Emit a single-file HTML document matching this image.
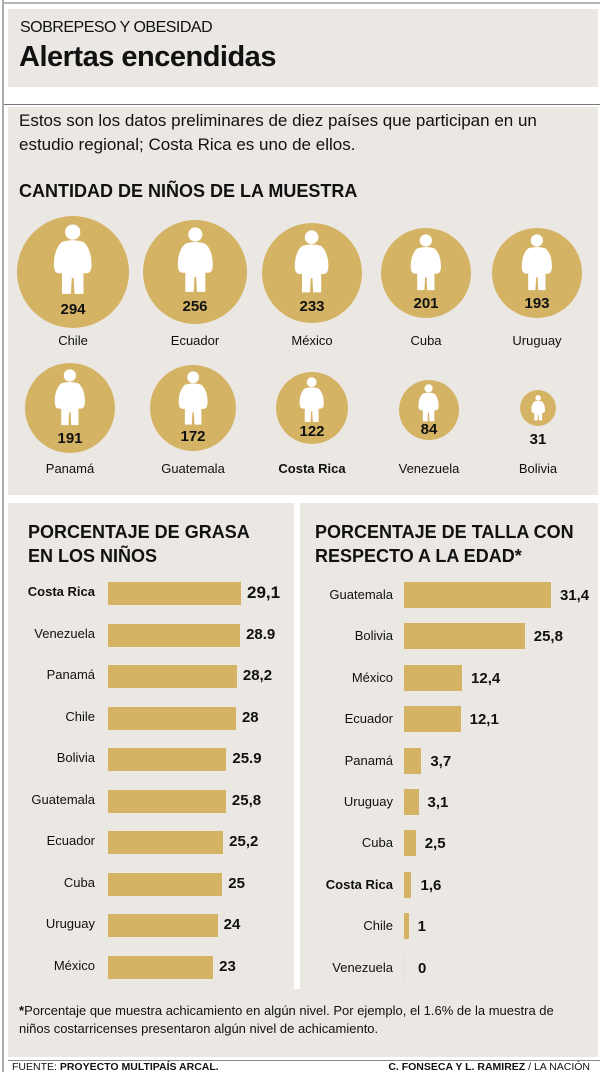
<!DOCTYPE html>
<html><head><meta charset="utf-8"><style>
*{margin:0;padding:0;box-sizing:border-box}
body{width:600px;height:1072px;background:#fff;position:relative;overflow:hidden;font-family:"Liberation Sans",sans-serif;color:#111}
.a{position:absolute}
.box{position:absolute;background:#ebe8e4}
.t{position:absolute;white-space:nowrap}
.b{font-weight:bold}
</style></head><body>
<div class="a" style="left:2px;top:0;width:2px;height:1072px;background:#a9a9a9"></div>
<div class="a" style="left:2px;top:2px;width:598px;height:2px;background:#b5b5b5"></div>
<div class="box" style="left:8px;top:9px;width:590px;height:78px"></div>
<div class="a" style="left:4px;top:104px;width:596px;height:1px;background:#777"></div>
<div class="box" style="left:8px;top:107px;width:590px;height:388px"></div>
<div class="box" style="left:8px;top:503px;width:286px;height:486px"></div>
<div class="box" style="left:300px;top:503px;width:298px;height:486px"></div>
<div class="box" style="left:8px;top:989px;width:590px;height:68px"></div>
<div class="a" style="left:8px;top:1060px;width:592px;height:1px;background:#888"></div>

<div class="t" style="left:20px;top:19px;font-size:16px;letter-spacing:-0.5px">SOBREPESO Y OBESIDAD</div>
<div class="t b" style="left:19px;top:41px;font-size:29px;letter-spacing:-0.5px">Alertas encendidas</div>
<div class="t" style="left:19px;top:109px;font-size:17px;line-height:24px">Estos son los datos preliminares de diez países que participan en un<br>estudio regional; Costa Rica es uno de ellos.</div>
<div class="t b" style="left:19px;top:181px;font-size:18px">CANTIDAD DE NIÑOS DE LA MUESTRA</div>

<div class="t b" style="left:28px;top:520px;font-size:18px;line-height:24px">PORCENTAJE DE GRASA<br>EN LOS NIÑOS</div>
<div class="t b" style="left:315px;top:520px;font-size:18px;line-height:24px">PORCENTAJE DE TALLA CON<br>RESPECTO A LA EDAD*</div>

<div class="t" style="left:19px;top:1002px;font-size:13px;line-height:18px"><b>*</b>Porcentaje que muestra achicamiento en algún nivel. Por ejemplo, el 1.6% de la muestra de<br>niños costarricenses presentaron algún nivel de achicamiento.</div>
<div class="t" style="left:12px;top:1061px;font-size:10.5px">FUENTE: <b>PROYECTO MULTIPAÍS ARCAL.</b></div>
<div class="t" style="right:10px;top:1061px;font-size:10.5px"><b>C. FONSECA Y L. RAMIREZ</b> / LA NACIÓN</div>

<div id="c"></div>
<script>
var h='';
var circ=[["Chile",294,73,272,56,341],["Ecuador",256,195,272,52,341],["México",233,312,273,50,341],["Cuba",201,426,273,45,341],["Uruguay",193,537,273,45,341],
["Panamá",191,70,408,45,469],["Guatemala",172,193,408,43,469],["Costa Rica",122,312,408,36,469],["Venezuela",84,429,410,30,469],["Bolivia",31,538,408,18,469]];
circ.forEach(function(c){
 var n=c[0],v=c[1],x=c[2],y=c[3],r=c[4],ly=c[5];
 h+='<div class="a" style="left:'+(x-r)+'px;top:'+(y-r)+'px;width:'+(2*r)+'px;height:'+(2*r)+'px;border-radius:50%;background:#d5b365"></div>';
 var s=r*1.28, top=y-r*0.86, small=r<25;
 if(small){s=r*1.45;top=y-r*0.72;}
 var w=s*0.55;
 h+='<svg class="a" style="left:'+(x-w/2)+'px;top:'+top+'px" width="'+w+'" height="'+s+'" viewBox="0 0 44 80"><circle cx="22" cy="9" r="8.5" fill="#fff"/><path d="M10 20 Q22 16 34 20 Q43 28 43 46 Q43 54 38 55 L34 55 L34 78 L24 78 L23 60 L21 60 L20 78 L10 78 L10 55 L6 55 Q1 54 1 46 Q1 28 10 20Z" fill="#fff"/></svg>';
 var ny=small?y+r+5:y+r*0.68-9;
 h+='<div class="t b" style="left:'+(x-30)+'px;width:60px;text-align:center;top:'+ny+'px;font-size:15px">'+v+'</div>';
 h+='<div class="t'+(n=="Costa Rica"?' b':'')+'" style="left:'+(x-50)+'px;width:100px;text-align:center;top:'+(ly-8)+'px;font-size:13px">'+n+'</div>';
});
var L=[["Costa Rica",29.1,"29,1",1],["Venezuela",28.9,"28.9"],["Panamá",28.2,"28,2"],["Chile",28,"28"],["Bolivia",25.9,"25.9"],["Guatemala",25.8,"25,8"],["Ecuador",25.2,"25,2"],["Cuba",25,"25"],["Uruguay",24,"24"],["México",23,"23"]];
L.forEach(function(d,i){var y=593+i*41.5;var w=d[1]*4.57;
 h+='<div class="t'+(d[3]?' b':'')+'" style="right:505px;top:'+(y-9)+'px;font-size:13px">'+d[0]+'</div>';
 h+='<div class="a" style="left:108px;top:'+(y-11)+'px;width:'+w+'px;height:23px;background:#d5b365"></div>';
 h+='<div class="t b" style="left:'+(108+w+6)+'px;top:'+(y-(d[3]?10:9))+'px;font-size:'+(d[3]?17:15)+'px">'+d[2]+'</div>';});
var R=[["Guatemala",31.4,"31,4"],["Bolivia",25.8,"25,8"],["México",12.4,"12,4"],["Ecuador",12.1,"12,1"],["Panamá",3.7,"3,7"],["Uruguay",3.1,"3,1"],["Cuba",2.5,"2,5"],["Costa Rica",1.6,"1,6",1],["Chile",1,"1"],["Venezuela",0,"0"]];
R.forEach(function(d,i){var y=595+i*41.4;var w=d[1]==0?0:Math.max(4,d[1]*4.68);
 h+='<div class="t'+(d[3]?' b':'')+'" style="right:207px;top:'+(y-8)+'px;font-size:13px">'+d[0]+'</div>';
 if(w)h+='<div class="a" style="left:404px;top:'+(y-13)+'px;width:'+w+'px;height:26px;background:#d5b365"></div>';
 else h+='<div class="a" style="left:404px;top:'+(y-13)+'px;width:1px;height:26px;background:#e2ddd5"></div>';
 h+='<div class="t b" style="left:'+(404+w+(w?9:14))+'px;top:'+(y-8)+'px;font-size:15px">'+d[2]+'</div>';});
document.getElementById('c').innerHTML=h;
</script>
</body></html>
